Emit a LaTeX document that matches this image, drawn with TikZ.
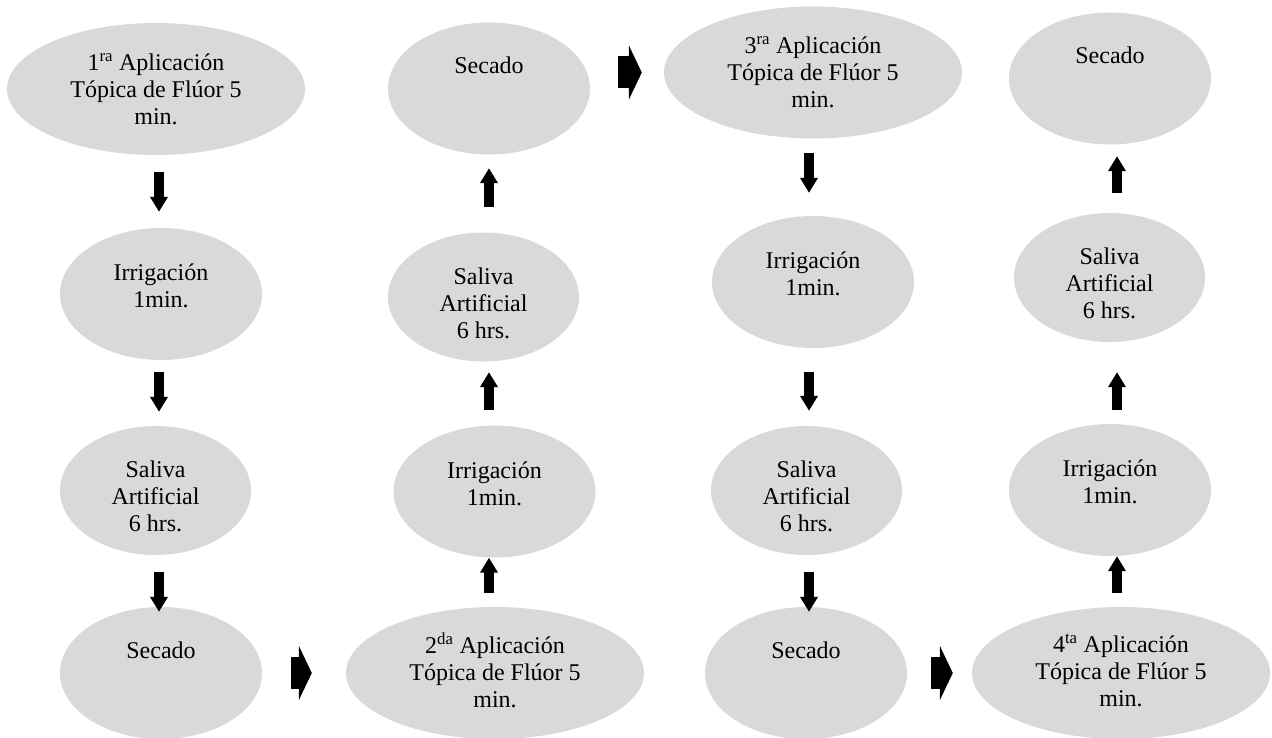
\documentclass[tikz,border=0pt]{standalone}
\usepackage{fontspec}
\setmainfont{Liberation Serif}
\usetikzlibrary{shapes.geometric,arrows.meta}
\definecolor{stepfill}{HTML}{D9D9D9}
\begin{document}
\begin{tikzpicture}[x=1pt,y=-1pt,
  stepbase/.style={ellipse, fill=stepfill, draw=none, inner sep=0pt},
  aplic/.style={stepbase, minimum width=298pt, minimum height=132pt},
  irrig/.style={stepbase, minimum width=202pt, minimum height=132pt},
  saliva/.style={stepbase, minimum width=191pt, minimum height=129pt},
  secado/.style={stepbase, minimum width=202pt, minimum height=132pt},
  steptext/.style={align=center, inner sep=0pt, font=\fontsize{24}{27}\selectfont},
  vblock/.style={line width=10pt, -{Triangle[width=17pt,length=15pt]}},
  hblock/.style={line width=32pt, -{Triangle[width=54pt,length=13pt]}},
]
\useasboundingbox (0,0) rectangle (1272,738);

% column positions of the vertical arrows
\coordinate (c1) at (159,0);
\coordinate (c2) at (489,0);
\coordinate (c3) at (809,0);
\coordinate (c4) at (1117,0);

% ---- column 1 (downwards)
\node[aplic]  (uno)  at (156,89) {};
\node[steptext] (uno-t) at ([yshift=0pt]uno.center) {1\textsuperscript{ra} Aplicación\\Tópica de Flúor 5\\min.};
\node[irrig]  (irr1) at (161,294) {};
\node[steptext] (irr1-t) at ([yshift=8pt]irr1.center) {Irrigación\\1min.};
\node[saliva] (sal1) at (155.5,490.5) {};
\node[steptext] (sal1-t) at ([yshift=-6pt]sal1.center) {Saliva\\Artificial\\6 hrs.};
\node[secado] (sec1) at (161,673) {};
\node[steptext] (sec1-t) at ([yshift=23pt]sec1.center) {Secado};

% ---- column 2 (upwards)
\node[aplic]  (dos)  at (495,673) {};
\node[steptext] (dos-t) at ([yshift=3pt]dos.center) {2\textsuperscript{da} Aplicación\\Tópica de Flúor 5\\min.};
\node[irrig]  (irr2) at (494.5,491.5) {};
\node[steptext] (irr2-t) at ([yshift=8pt]irr2.center) {Irrigación\\1min.};
\node[saliva] (sal2) at (483.5,297) {};
\node[steptext] (sal2-t) at ([yshift=-6pt]sal2.center) {Saliva\\Artificial\\6 hrs.};
\node[secado] (sec2) at (489,88.5) {};
\node[steptext] (sec2-t) at ([yshift=23pt]sec2.center) {Secado};

% ---- column 3 (downwards)
\node[aplic]  (tre)  at (813,72.5) {};
\node[steptext] (tre-t) at ([yshift=0pt]tre.center) {3\textsuperscript{ra} Aplicación\\Tópica de Flúor 5\\min.};
\node[irrig]  (irr3) at (813,282) {};
\node[steptext] (irr3-t) at ([yshift=8pt]irr3.center) {Irrigación\\1min.};
\node[saliva] (sal3) at (806.5,490.5) {};
\node[steptext] (sal3-t) at ([yshift=-6pt]sal3.center) {Saliva\\Artificial\\6 hrs.};
\node[secado] (sec3) at (806,673) {};
\node[steptext] (sec3-t) at ([yshift=23pt]sec3.center) {Secado};

% ---- column 4 (upwards)
\node[aplic]  (cua)  at (1121,673) {};
\node[steptext] (cua-t) at ([yshift=3pt]cua.center) {4\textsuperscript{ta} Aplicación\\Tópica de Flúor 5\\min.};
\node[irrig]  (irr4) at (1110,490) {};
\node[steptext] (irr4-t) at ([yshift=8pt]irr4.center) {Irrigación\\1min.};
\node[saliva] (sal4) at (1109.5,277.5) {};
\node[steptext] (sal4-t) at ([yshift=-6pt]sal4.center) {Saliva\\Artificial\\6 hrs.};
\node[secado] (sec4) at (1110,78.5) {};
\node[steptext] (sec4-t) at ([yshift=23pt]sec4.center) {Secado};

% ---- vertical block arrows
\draw[vblock, shorten <=17pt, shorten >=16pt] (uno.south -| c1) -- (irr1.north -| c1);
\draw[vblock, shorten <=12pt, shorten >=14pt] (irr1.south -| c1) -- (sal1.north -| c1);
\draw[vblock, shorten <=17pt, shorten >=-5pt] (sal1.south -| c1) -- (sec1.north -| c1);

\draw[vblock, shorten <=14pt, shorten >=0pt] (dos.north -| c2) -- (irr2.south -| c2);
\draw[vblock, shorten <=15.5pt, shorten >=10.5pt] (irr2.north -| c2) -- (sal2.south -| c2);
\draw[vblock, shorten <=25.5pt, shorten >=13.5pt] (sal2.north -| c2) -- (sec2.south -| c2);

\draw[vblock, shorten <=14.5pt, shorten >=23pt] (tre.south -| c3) -- (irr3.north -| c3);
\draw[vblock, shorten <=24pt, shorten >=15pt] (irr3.south -| c3) -- (sal3.north -| c3);
\draw[vblock, shorten <=17pt, shorten >=-5pt] (sal3.south -| c3) -- (sec3.north -| c3);

\draw[vblock, shorten <=14pt, shorten >=0pt] (cua.north -| c4) -- (irr4.south -| c4);
\draw[vblock, shorten <=14pt, shorten >=30pt] (irr4.north -| c4) -- (sal4.south -| c4);
\draw[vblock, shorten <=20pt, shorten >=11.5pt] (sal4.north -| c4) -- (sec4.south -| c4);

% ---- horizontal block arrows between columns
\draw[hblock, shorten <=29pt, shorten >=34pt] (sec1.east) -- (dos.west);
\draw[hblock, shorten <=28pt, shorten >=22pt] (sec2.east |- tre.west) -- (tre.west);
\draw[hblock, shorten <=24pt, shorten >=19pt] (sec3.east) -- (cua.west);
\end{tikzpicture}
\end{document}
